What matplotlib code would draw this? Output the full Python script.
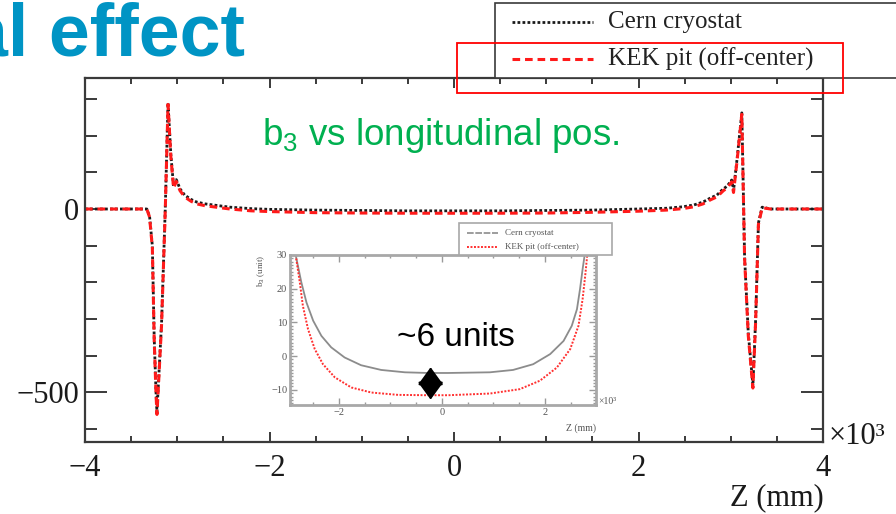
import matplotlib
matplotlib.use("Agg")
import matplotlib.pyplot as plt
from matplotlib.lines import Line2D
from matplotlib.patches import Rectangle
from matplotlib.ticker import FixedLocator, MultipleLocator

plt.rcParams["mathtext.fontset"] = "custom"
plt.rcParams["mathtext.rm"] = "Liberation Sans"
plt.rcParams["mathtext.it"] = "Liberation Sans:italic"

# b3 along the magnet axis, Z in units of 10^3 mm
z_main = [-4.00, -3.33, -3.30, -3.27, -3.25, -3.23, -3.22, -3.17, -3.13, -3.10,
          -3.07, -3.04, -3.01, -2.97, -2.92, -2.85, -2.79, -2.70, -2.61, -2.43,
          -2.20, -2.00, -1.50, -1.00, -0.50, 0.00, 0.50, 1.00, 1.50, 2.00,
          2.30, 2.48, 2.60, 2.70, 2.78, 2.85, 2.92, 2.96, 3.01, 3.03,
          3.07, 3.12, 3.15, 3.19, 3.24, 3.27, 3.30, 3.34, 3.38, 3.43, 4.00]
b3_cern = [0, 0, -20, -100, -350, -500, -553, -310, 0, 289,
           150, 62, 80, 55, 38, 26, 19, 14, 11, 5,
           1, -1, -3, -4, -5, -5, -5, -4, -3, 0,
           2, 6, 11, 19, 30, 38, 55, 62, 79, 50,
           140, 262, -130, -338, -480, -300, -38, 5, 3, 0, 0]
b3_kek = [0, 0, -22, -105, -355, -505, -560, -315, -4, 285,
          145, 57, 75, 50, 33, 21, 14, 9, 6, 0,
          -5, -7, -10, -11, -11.5, -11.6, -11.5, -11, -9, -6,
          -3, 1, 6, 14, 25, 33, 50, 57, 74, 45,
          135, 258, -135, -345, -488, -305, -42, 3, 2, 0, 0]

# close-up of the straight section
z_in_cern = [-2.84, -2.73, -2.63, -2.50, -2.34, -2.15, -1.89, -1.57, -1.18, -0.72,
             -0.27, 0.12, 0.93, 1.38, 1.77, 2.10, 2.36, 2.52, 2.62, 2.68,
             2.73, 2.77]
b3_in_cern = [30, 21.9, 15.9, 10.5, 6.0, 2.6, -0.4, -2.7, -4.1, -4.8,
              -5.0, -5.0, -4.8, -4.1, -2.4, 0.6, 4.5, 9.0, 13.9, 19.9,
              25.8, 30]
z_in_kek = [-2.84, -2.76, -2.70, -2.60, -2.47, -2.31, -2.08, -1.76, -1.37, -0.85,
            -0.27, 0.12, 0.93, 1.51, 1.90, 2.23, 2.49, 2.65, 2.73, 2.78,
            2.82]
b3_in_kek = [30, 21.9, 14.9, 8.0, 2.1, -2.4, -6.3, -9.3, -10.8, -11.5,
             -11.6, -11.6, -11.1, -9.8, -7.3, -3.4, 2.1, 9.0, 16.9, 23.8,
             30]

labels = ["Cern cryostat", "KEK pit (off-center)"]

W, H = 896, 514
fig = plt.figure(figsize=(W / 100, H / 100), dpi=100)
fig.patch.set_facecolor("white")


def fx(px):
    return px / W


def fy(py):
    return 1 - py / H


def box(x0, y0, x1, y1):
    # axes rectangle from pixel corners
    return [fx(x0), fy(y1), fx(x1) - fx(x0), fy(y0) - fy(y1)]


serif = "Liberation Serif"
sans = "Liberation Sans"
frame_col = "#3a3a3a"

cern_style = dict(color="#1a1a1a", lw=2.0, linestyle=(0, (1.0, 0.8)))
kek_style = dict(color="#ff1a1a", lw=2.2, linestyle=(0, (2.5, 1.6)))

# main plot
ax = fig.add_axes(box(85, 78, 823, 442))
ax.plot(z_main, b3_cern, **cern_style)
ax.plot(z_main, b3_kek, **kek_style)
ax.set_xlim(-4, 4)
ax.set_ylim(-635, 357)

ax.xaxis.set_major_locator(MultipleLocator(2))
ax.xaxis.set_minor_locator(MultipleLocator(0.5))
ax.yaxis.set_major_locator(FixedLocator([-500, 0]))
ax.yaxis.set_minor_locator(MultipleLocator(100))
ax.tick_params(which="both", direction="in", top=True, right=True,
               color=frame_col, width=1.4)
ax.tick_params(axis="x", which="major", length=7, pad=9)
ax.tick_params(axis="x", which="minor", length=4)
ax.tick_params(axis="y", which="major", length=16, pad=4)
ax.tick_params(axis="y", which="minor", length=8.5)
ax.tick_params(labelsize=22, labelcolor="#1a1a1a")
for lab in ax.get_xticklabels() + ax.get_yticklabels():
    lab.set_family(serif)
for sp in ax.spines.values():
    sp.set_color(frame_col)
    sp.set_linewidth(1.6)

fig.text(fx(829), fy(436), "×10³", fontsize=22, family=serif,
         color="#1a1a1a", ha="left", va="center")
fig.text(fx(824), fy(498), "Z (mm)", fontsize=22, family=serif,
         color="#1a1a1a", ha="right", va="center")

# slide title and caption
fig.text(fx(245), fy(55), "al effect", fontsize=53, weight="bold",
         family=sans, color="#0094c4", ha="right", va="baseline")
fig.text(fx(262), fy(145), r"$\mathrm{b}_3$ vs longitudinal pos.",
         fontsize=26.5, family=sans, color="#00b050", ha="left", va="baseline")

# legend of the main plot
fig.add_artist(Rectangle((fx(495), fy(78)), fx(930) - fx(495), fy(3) - fy(78),
                         transform=fig.transFigure, facecolor="white",
                         edgecolor=frame_col, lw=1.2, zorder=3))
for row, (style, label) in enumerate(zip([cern_style, kek_style], labels)):
    yy = [22, 59][row]
    fig.add_artist(Line2D([fx(512), fx(593)], [fy(yy), fy(yy)],
                          transform=fig.transFigure, zorder=4, **style))
    fig.text(fx(608), fy(yy), label, fontsize=18, family=serif,
             color="#222222", ha="left", va="center", zorder=4)

fig.add_artist(Rectangle((fx(457), fy(93)), fx(843) - fx(457), fy(43) - fy(93),
                         transform=fig.transFigure, facecolor="none",
                         edgecolor="#ff0000", lw=1.3, zorder=5))

# inset: centre region of the magnet
axi = fig.add_axes(box(290, 255, 596, 405))
axi.plot(z_in_cern, b3_in_cern, color="#8c8c8c", lw=1.3)
axi.plot(z_in_kek, b3_in_kek, color="#ff3030", lw=1.4, linestyle=(0, (1.0, 0.8)))
axi.set_xlim(-2.95, 2.99)
axi.set_ylim(-14.5, 30)
axi.xaxis.set_major_locator(MultipleLocator(2))
axi.xaxis.set_minor_locator(MultipleLocator(0.5))
axi.yaxis.set_major_locator(MultipleLocator(10))
axi.yaxis.set_minor_locator(MultipleLocator(1))
axi.tick_params(which="both", direction="in", top=True, right=True,
                color="#9a9a9a", width=1.0, labelsize=7.5, labelcolor="#555555")
axi.tick_params(which="major", length=5, pad=2)
axi.tick_params(which="minor", length=2.5)
for lab in axi.get_xticklabels() + axi.get_yticklabels():
    lab.set_family(serif)
for sp in axi.spines.values():
    sp.set_color("#a8a8a8")
    sp.set_linewidth(2.0)
axi.set_ylabel("b$_3$ (unit)", fontsize=6.5, family=serif, color="#555555",
               loc="top", labelpad=3)
axi.set_xlabel("Z (mm)", fontsize=7, family=serif, color="#555555",
               loc="right", labelpad=5)
fig.text(fx(598), fy(401), "×10³", fontsize=7, family=serif,
         color="#555555", ha="left", va="center")

# inset legend
fig.add_artist(Rectangle((fx(459), fy(255)), fx(612) - fx(459), fy(223) - fy(255),
                         transform=fig.transFigure, facecolor="white",
                         edgecolor="#a8a8a8", lw=1.2, zorder=3))
inset_styles = [dict(color="#8c8c8c", lw=1.2, linestyle=(0, (4, 1))),
                dict(color="#ff3030", lw=1.4, linestyle=(0, (1.0, 0.8)))]
for row, (style, label) in enumerate(zip(inset_styles, labels)):
    yy = [233, 247][row]
    fig.add_artist(Line2D([fx(467), fx(498)], [fy(yy), fy(yy)],
                          transform=fig.transFigure, zorder=4, **style))
    fig.text(fx(505), fy(yy), label, fontsize=6.5, family=serif,
             color="#555555", ha="left", va="center", zorder=4)

# difference between the two set-ups at the centre
axi.annotate("", xy=(-0.22, -12.9), xytext=(-0.22, -3.3),
             arrowprops=dict(arrowstyle="<|-|>,head_length=0.55,head_width=0.4",
                             color="black", lw=1.5, shrinkA=0, shrinkB=0,
                             mutation_scale=20))
axi.axhline(-8.1, xmin=0.44, xmax=0.485, color="white", lw=1.0)
fig.text(fx(456), fy(338), "~6 units", fontsize=24, family=sans,
         color="black", ha="center", va="center")

fig.savefig("out.png", dpi=100)
